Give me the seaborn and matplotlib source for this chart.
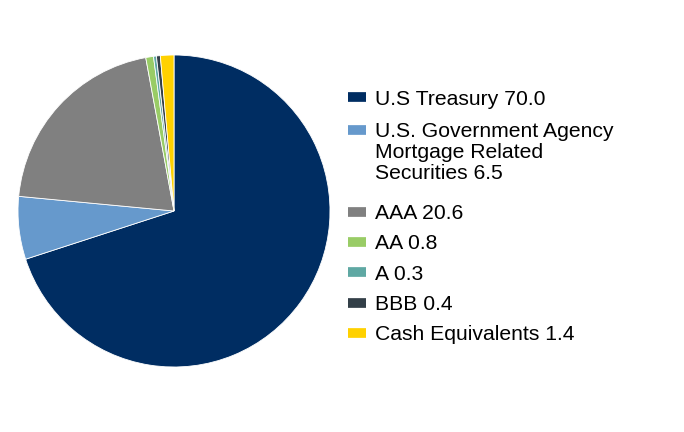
import matplotlib
matplotlib.use("Agg")
import matplotlib.pyplot as plt
from matplotlib.lines import Line2D
import seaborn as sns

labels = ["U.S Treasury 70.0",
          "U.S. Government Agency\nMortgage Related\nSecurities 6.5",
          "AAA 20.6", "AA 0.8", "A 0.3", "BBB 0.4", "Cash Equivalents 1.4"]
values = [70.0, 6.5, 20.6, 0.8, 0.3, 0.4, 1.4]
colors = ["#002D62", "#6699CC", "#808080", "#99CC66", "#5FA8A3", "#333F48", "#FFD100"]

sns.set_theme(style="white")
plt.rcParams['font.family'] = ['Liberation Sans', 'DejaVu Sans']
plt.rcParams['text.color'] = 'black'
palette = sns.color_palette(colors)

fig = plt.figure(figsize=(6.84, 4.32), dpi=100)
ax = fig.add_axes([(174 - 156) / 684, (432 - 211 - 156) / 432, 312 / 684, 312 / 432])
ax.pie(values, colors=palette, startangle=90, counterclock=False,
       wedgeprops=dict(edgecolor="white", linewidth=0.6))
ax.set_xlim(-1, 1)
ax.set_ylim(-1, 1)
ax.set_aspect("equal")

handles = [Line2D([0], [0], color=c, lw=7, solid_capstyle="butt") for c in palette]
common = dict(loc="upper left", frameon=False, fontsize=15.25, handlelength=0.85,
              handletextpad=0.42, borderpad=0, borderaxespad=0, labelcolor="black")

leg1 = fig.legend(handles[:2], labels[:2], bbox_to_anchor=(348 / 684, 1 - 90 / 432),
                  labelspacing=0.62, **common)
for col in leg1._legend_handle_box.get_children():
    for item in col.get_children():
        item.align = "top"
leg1.get_texts()[1].set_linespacing(1.12)

leg2 = fig.legend(handles[2:], labels[2:], bbox_to_anchor=(348 / 684, 1 - 204 / 432),
                  labelspacing=0.535, **common)

fig.savefig("out.png", dpi=100, facecolor="white")
